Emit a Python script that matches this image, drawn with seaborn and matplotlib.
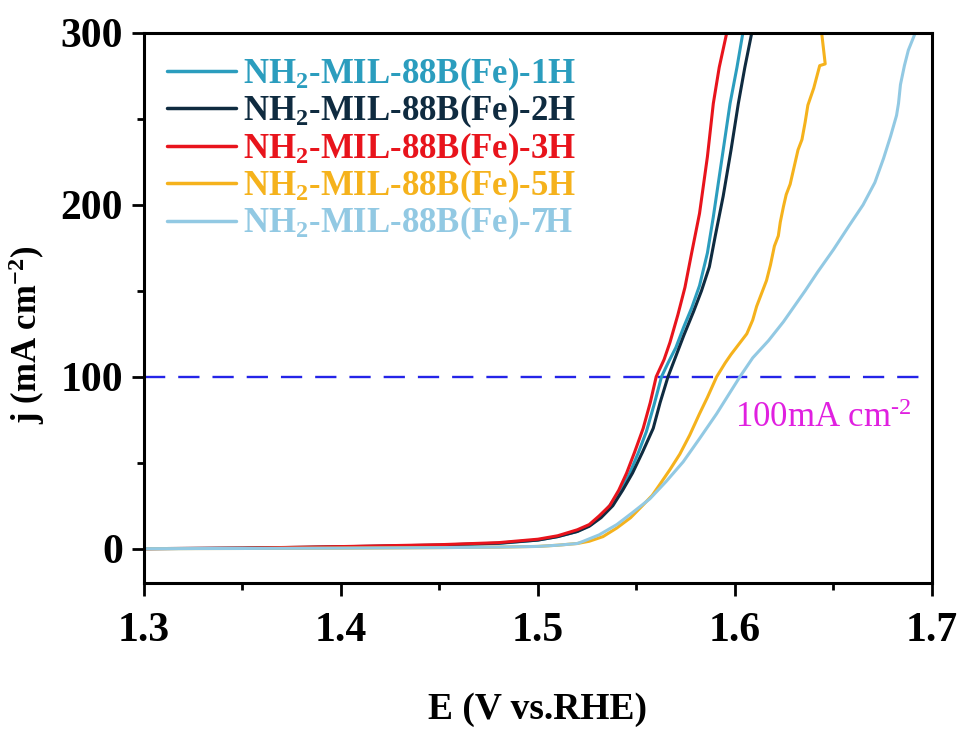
import numpy as np
import pandas as pd
import matplotlib
matplotlib.use("Agg")
import matplotlib.pyplot as plt
import seaborn as sns
from matplotlib.ticker import MultipleLocator

sns.set_theme(style="ticks")
plt.rcParams['font.family'] = ['Liberation Serif', 'DejaVu Serif']
plt.rcParams['mathtext.fontset'] = 'custom'
plt.rcParams['mathtext.rm'] = 'Liberation Serif'
plt.rcParams['mathtext.bf'] = 'Liberation Serif:bold'
plt.rcParams['mathtext.it'] = 'Liberation Serif:italic'
for k in ['text.color', 'axes.labelcolor', 'xtick.color', 'ytick.color']:
    plt.rcParams[k] = 'black'

labels = ["NH$_{\\mathbf{2}}$-MIL-88B(Fe)-1H", "NH$_{\\mathbf{2}}$-MIL-88B(Fe)-2H",
          "NH$_{\\mathbf{2}}$-MIL-88B(Fe)-3H", "NH$_{\\mathbf{2}}$-MIL-88B(Fe)-5H",
          "NH$_{\\mathbf{2}}$-MIL-88B(Fe)-7H"]
colors = ["#2B9DBE", "#0F2B40", "#E8141C", "#F5B21C", "#92C9E3"]

E_1H = [1.30, 1.35, 1.40, 1.45, 1.48, 1.50, 1.51, 1.52, 1.527, 1.532, 1.5364, 1.542, 1.5466, 1.551, 1.555,
        1.559, 1.5627, 1.566, 1.570, 1.574, 1.578, 1.582, 1.586, 1.589, 1.593, 1.5975, 1.601, 1.604]
j_1H = [0, 0.2, 0.9, 1.8, 3.0, 5.0, 7, 10, 14, 19, 25, 34, 44, 56, 68,
        84, 100, 108, 117, 129, 140, 153, 172, 193, 224, 259, 280, 300]

E_2H = [1.30, 1.35, 1.40, 1.45, 1.48, 1.50, 1.51, 1.52, 1.526, 1.532, 1.538, 1.543, 1.548, 1.553, 1.5585,
        1.562, 1.566, 1.570, 1.574, 1.579, 1.583, 1.587, 1.590, 1.594, 1.598, 1.6017, 1.605, 1.6085]
j_2H = [0, 0.3, 1.1, 2.1, 3.2, 5.0, 7, 10, 13, 18, 25, 34, 44, 56, 70,
        85, 100, 112, 124, 138, 150, 164, 182, 205, 232, 259, 280, 300]

E_3H = [1.30, 1.35, 1.40, 1.45, 1.48, 1.50, 1.51, 1.52, 1.526, 1.531, 1.5364, 1.541, 1.545, 1.549, 1.5534,
        1.557, 1.560, 1.564, 1.567, 1.571, 1.5746, 1.578, 1.582, 1.586, 1.589, 1.592, 1.5958]
j_3H = [0, 0.3, 1.2, 2.3, 3.5, 5.5, 7.5, 11, 14, 19, 25, 34, 44, 56, 70,
        85, 100, 110, 120, 136, 152, 172, 195, 228, 259, 280, 300]

E_5H = [1.30, 1.35, 1.40, 1.45, 1.48, 1.50, 1.51, 1.52, 1.526, 1.533, 1.540, 1.547, 1.553, 1.558, 1.562,
        1.567, 1.572, 1.577, 1.582, 1.586, 1.5907, 1.595, 1.598, 1.602, 1.606, 1.609, 1.611, 1.613, 1.616,
        1.618, 1.620, 1.622, 1.623, 1.6246, 1.626, 1.628, 1.631, 1.632, 1.634, 1.6356, 1.637, 1.640, 1.643,
        1.6458, 1.645, 1.644]
j_5H = [0, 0.1, 0.3, 0.6, 0.9, 1.3, 2, 3, 4.3, 7, 12, 18, 25, 31, 37.6,
        46, 55, 66, 78.5, 88, 100, 108, 113, 119, 125, 133, 141, 147, 156,
        165, 176, 182, 190, 199, 206, 212, 227, 232, 238, 248, 258, 268, 281,
        282, 290, 300]

E_7H = [1.30, 1.35, 1.40, 1.45, 1.48, 1.50, 1.51, 1.52, 1.523, 1.531, 1.540, 1.548, 1.5568, 1.565, 1.5737,
        1.582, 1.5907, 1.597, 1.6025, 1.609, 1.617, 1.6246, 1.6356, 1.642, 1.650, 1.658, 1.665,
        1.671, 1.6754, 1.679, 1.682, 1.683, 1.684, 1.686, 1.688, 1.6915]
j_7H = [0, 0.1, 0.3, 0.6, 0.9, 1.3, 2, 3, 4.3, 8, 14, 21, 29, 39, 50.5,
        64, 78.5, 90, 100, 111, 121, 132, 150, 161, 174, 188, 200,
        213, 227, 240, 252, 259, 270, 281, 290, 300]

ref_j = 100
x_ticks = [1.3, 1.4, 1.5, 1.6, 1.7]
y_ticks = [0, 100, 200, 300]

series = [(E_1H, j_1H), (E_2H, j_2H), (E_3H, j_3H), (E_5H, j_5H), (E_7H, j_7H)]
frames = []
for lab, (E, j) in zip(labels, series):
    frames.append(pd.DataFrame({"E": E, "j": j, "sample": lab}))
df = pd.concat(frames, ignore_index=True)

fig = plt.figure(figsize=(9.63, 7.33), dpi=100)
ax = fig.add_axes([0.1495, 0.2046, 0.8183, 0.7504])

sns.lineplot(data=df, x="E", y="j", hue="sample", palette=dict(zip(labels, colors)),
             sort=False, estimator=None, linewidth=2.2, ax=ax, legend=False)

ax.axhline(ref_j, color="#2424E8", linestyle=(0, (9, 5.5)), linewidth=1.7, zorder=0)
ax.text(1.6, 71, "100mA cm$^{\\text{-2}}$", color="#E020E0", fontsize=25, ha="left", va="baseline")

ax.set_xlim(1.3, 1.7)
ax.set_ylim(-20, 300)
ax.set_xticks(x_ticks)
ax.set_yticks(y_ticks)
ax.xaxis.set_minor_locator(MultipleLocator(0.05))
ax.yaxis.set_minor_locator(MultipleLocator(50))
ax.set_xticklabels([f"{v:.1f}" for v in x_ticks], fontsize=30, fontweight="bold")
ax.set_yticklabels([str(v) for v in y_ticks], fontsize=30, fontweight="bold")
ax.tick_params(which="major", direction="out", length=9, width=2, color="black")
ax.tick_params(axis="x", which="major", pad=12)
ax.tick_params(axis="y", which="major", pad=6)
ax.tick_params(which="minor", direction="out", length=5, width=2, color="black")
for s in ax.spines.values():
    s.set_linewidth(2.2)
    s.set_color("black")

ax.set_xlabel("E (V vs.RHE)", fontsize=27, fontweight="bold", labelpad=30)
ax.set_ylabel("j (mA cm$^{\\mathbf{-2}}$)", fontsize=25, fontweight="bold")
ax.yaxis.set_label_coords(-0.123, 0.451)

handles = [plt.Line2D([], [], color=c, linewidth=2.5) for c in colors]
leg = ax.legend(handles, labels, loc="upper left", bbox_to_anchor=(0.0, 1.0), frameon=False,
                prop={"family": "Liberation Serif", "weight": "bold", "size": 25},
                handlelength=2.0, handletextpad=0.2, labelspacing=0.0, borderaxespad=0.25)
for t, c in zip(leg.get_texts(), colors):
    t.set_color(c)

fig.savefig("out.png", dpi=100, facecolor="white")
